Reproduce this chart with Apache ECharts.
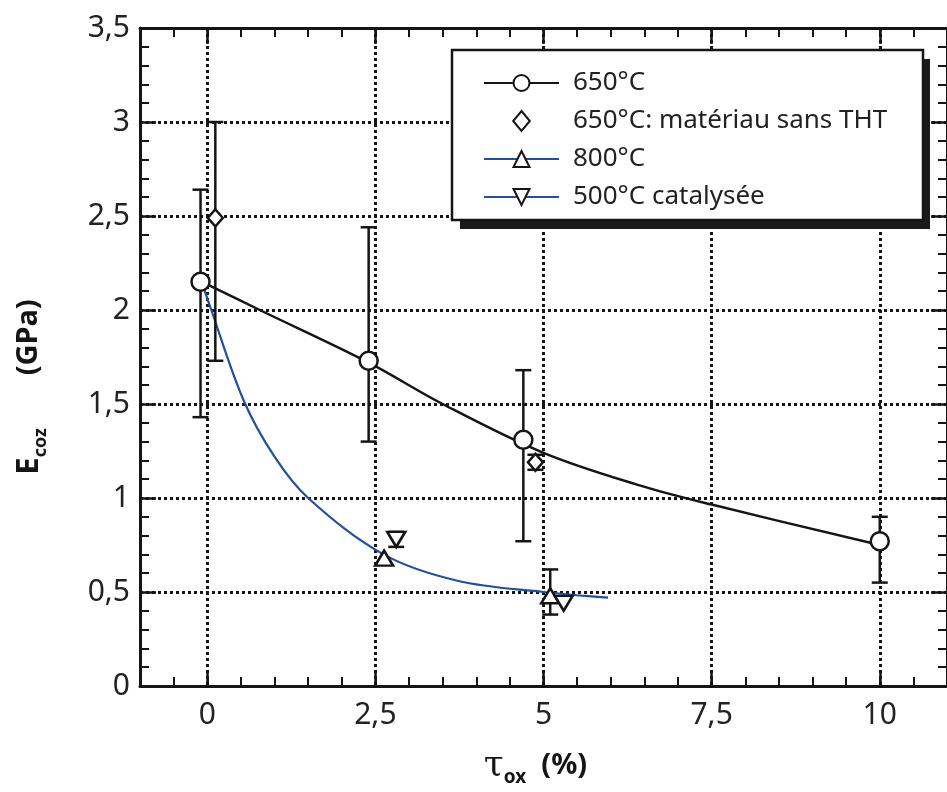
<!DOCTYPE html>
<html><head><meta charset="utf-8">
<script src="https://cdn.jsdelivr.net/npm/echarts@6/dist/echarts.min.js"></script>
<style>html,body{margin:0;padding:0;background:#fff}#c{width:947px;height:792px}</style>
</head><body><div id="c"></div>
<script>
// ---- data ----
const xMajorTicks = [0, 2.5, 5, 7.5, 10];
// 650°C measured points [tau_ox %, E GPa]
const pts650 = [[-0.1, 2.15], [2.4, 1.73], [4.7, 1.31], [10, 0.77]];
const err650 = [[-0.1, 1.43, 2.64], [2.4, 1.30, 2.44], [4.7, 0.77, 1.68], [10, 0.55, 0.90]];
// 650°C without THT
const ptsSansTHT = [[0.12, 2.49], [4.88, 1.19]];
const errSansTHT = [[0.12, 1.73, 3.0], [4.88, 1.15, 1.23]];
// 800°C
const pts800 = [[2.63, 0.68], [5.1, 0.48]];
const err800 = [[5.1, 0.38, 0.62]];
// 500°C catalysée
const pts500 = [[2.81, 0.78], [5.3, 0.44]];
const err500 = [[2.81, 0.74, 0.82]];
// fitted curves
const fit650 = [[-0.08, 2.15], [0.78, 2.0], [2.4, 1.72], [3.5, 1.5], [5.0, 1.24], [6.4, 1.07], [7.5, 0.965], [10, 0.75]];
const fitBlue = [[-0.08, 2.15], [0.06, 2.0], [0.54, 1.52], [1.0, 1.22], [1.5, 1.0], [2.62, 0.70], [3.72, 0.56], [5.0, 0.50], [5.96, 0.47]];

const BLACK = '#151515';
const BLUE = '#24509a';
const FONT = 'Noto Sans';
const comma = v => String(v).replace('.', ',');
const downTri = 'path://M0,0 L20,0 L10,17 Z';
const diamondPath = 'path://M10,0 L20,12 L10,24 L0,12 Z';

function errRender(params, api) {
  const x = api.value(0), lo = api.value(1), hi = api.value(2);
  const a = api.coord([x, hi]), b = api.coord([x, lo]);
  const hw = 8;
  const st = { stroke: BLACK, lineWidth: 2.5 };
  return { type: 'group', children: [
    { type: 'line', shape: { x1: a[0], y1: a[1], x2: b[0], y2: b[1] }, style: st },
    { type: 'line', shape: { x1: a[0] - hw, y1: a[1], x2: a[0] + hw, y2: a[1] }, style: st },
    { type: 'line', shape: { x1: b[0] - hw, y1: b[1], x2: b[0] + hw, y2: b[1] }, style: st }
  ]};
}
function errSeries(name, data) {
  return { name, type: 'custom', renderItem: errRender, data, z: 3,
    dimensions: ['x', 'lo', 'hi'], encode: { x: 0, y: [1, 2] }, silent: true };
}

const T = 'rgba(0,0,0,0)';
const gridDots = [T, T, BLACK, T, T];
const xBase = { min: -1, max: 11, type: 'value', gridIndex: 0 };
const axisLine = { show: true, onZero: false, lineStyle: { color: BLACK, width: 3 } };
const dotted = { width: 3, type: [3, 3] };
const markerStyle = { color: '#fff', borderColor: BLACK, borderWidth: 2.5, opacity: 1 };

const chart = echarts.init(document.getElementById('c'), null, { renderer: 'canvas' });
chart.setOption({
  animation: false,
  backgroundColor: '#fff',
  grid: { left: 140, top: 28, width: 814, height: 660 },
  graphic: [
    { type: 'rect', left: 460, top: 59, shape: { width: 470, height: 170 }, style: { fill: '#1a1a1a' }, z: 1, silent: true }
  ],
  xAxis: [
    Object.assign({}, xBase, {
      position: 'bottom', interval: 0.5,
      axisLine,
      axisTick: { inside: true, length: 9, lineStyle: { color: BLACK, width: 2 } },
      axisLabel: { show: false },
      splitLine: { show: true, lineStyle: Object.assign({ color: gridDots }, dotted) },
      name: '{t|τ}{s|ox}{p|  (%)}', nameLocation: 'middle', nameGap: 58,
      nameTextStyle: { padding: [0, 16, 0, 0], rich: {
        t: { fontFamily: 'DejaVu Serif', fontSize: 36, color: BLACK },
        s: { fontFamily: FONT, fontSize: 19, fontWeight: 'bold', color: BLACK, padding: [24, 0, 0, 0] },
        p: { fontFamily: FONT, fontSize: 29, fontWeight: 'bold', color: BLACK }
      } }
    }),
    Object.assign({}, xBase, {
      position: 'bottom',
      axisLine: { show: false, onZero: false },
      axisTick: { inside: true, length: 16, customValues: xMajorTicks, lineStyle: { color: BLACK, width: 2.5 } },
      axisLabel: { customValues: xMajorTicks, formatter: comma, margin: 14, fontFamily: FONT, fontSize: 30, color: '#222' },
      splitLine: { show: false }
    }),
    Object.assign({}, xBase, {
      position: 'top', interval: 0.5,
      axisLine,
      axisTick: { inside: true, length: 9, lineStyle: { color: BLACK, width: 2 } },
      axisLabel: { show: false }, splitLine: { show: false }
    }),
    Object.assign({}, xBase, {
      position: 'top',
      axisLine: { show: false, onZero: false },
      axisTick: { inside: true, length: 16, customValues: xMajorTicks, lineStyle: { color: BLACK, width: 2.5 } },
      axisLabel: { show: false }, splitLine: { show: false }
    })
  ],
  yAxis: [
    {
      type: 'value', min: 0, max: 3.5, interval: 0.5, position: 'left',
      axisLine,
      axisTick: { inside: true, length: 16, lineStyle: { color: BLACK, width: 2.5 } },
      minorTick: { show: true, splitNumber: 5, length: 9, lineStyle: { color: BLACK, width: 2 } },
      axisLabel: { formatter: comma, margin: 10, fontFamily: FONT, fontSize: 30, color: '#222' },
      splitLine: { show: true, lineStyle: Object.assign({ color: BLACK }, dotted) },
      name: '{e|E}{s|coz}{p|       (GPa)}', nameLocation: 'middle', nameRotate: 90, nameGap: 90,
      nameTextStyle: { padding: [0, 60, 0, 0], rich: {
        e: { fontFamily: FONT, fontSize: 31, fontWeight: 'bold', color: BLACK },
        s: { fontFamily: FONT, fontSize: 18, fontWeight: 'bold', color: BLACK, padding: [24, 0, 0, 0] },
        p: { fontFamily: FONT, fontSize: 29, fontWeight: 'bold', color: BLACK }
      } }
    },
    {
      type: 'value', min: 0, max: 3.5, interval: 0.5, position: 'right',
      axisLine,
      axisTick: { inside: true, length: 16, lineStyle: { color: BLACK, width: 2.5 } },
      minorTick: { show: true, splitNumber: 5, length: 9, lineStyle: { color: BLACK, width: 2 } },
      axisLabel: { show: false }, splitLine: { show: false }
    }
  ],
  legend: {
    left: 452, top: 50, orient: 'vertical', z: 10,
    data: ['650°C', { name: '650°C: matériau sans THT', icon: diamondPath }, '800°C', '500°C catalysée'],
    itemWidth: 75, itemHeight: 20, itemGap: 8,
    padding: [18, 27, 8, 31],
    symbolKeepAspect: true,
    backgroundColor: '#fff', borderColor: BLACK, borderWidth: 2.5, borderRadius: 0,
    textStyle: { fontFamily: FONT, fontSize: 26, color: '#222', lineHeight: 30, width: 323, overflow: 'none', padding: [0, 0, 0, 9] },
    selectedMode: false
  },
  series: [
    { name: '650°C', type: 'line', data: fit650, smooth: 0.35, showSymbol: false, symbol: 'circle', symbolSize: 16,
      lineStyle: { color: BLACK, width: 2.5 }, itemStyle: markerStyle, z: 2, silent: true },
    { name: '800°C', type: 'line', data: fitBlue, smooth: 0.35, showSymbol: false, symbol: 'triangle', symbolSize: 16,
      lineStyle: { color: BLUE, width: 2.2 }, itemStyle: markerStyle, z: 2, silent: true },
    { name: '500°C catalysée', type: 'line', data: [], showSymbol: false, symbol: downTri, symbolSize: 16,
      lineStyle: { color: BLUE, width: 2.2 }, itemStyle: markerStyle },
    errSeries('e650', err650),
    errSeries('eSans', errSansTHT),
    errSeries('e800', err800),
    errSeries('e500', err500),
    { name: '650°C', type: 'scatter', data: pts650, symbol: 'circle', symbolSize: 18, z: 5, itemStyle: markerStyle },
    { name: '650°C: matériau sans THT', type: 'scatter', data: ptsSansTHT, symbol: diamondPath, symbolSize: [15, 17], z: 5, itemStyle: markerStyle },
    { name: '800°C', type: 'scatter', data: pts800, symbol: 'triangle', symbolSize: [18, 15], z: 5, itemStyle: markerStyle },
    { name: '500°C catalysée', type: 'scatter', data: pts500, symbol: downTri, symbolSize: [18, 15], z: 5, itemStyle: markerStyle }
  ]
});
</script></body></html>
